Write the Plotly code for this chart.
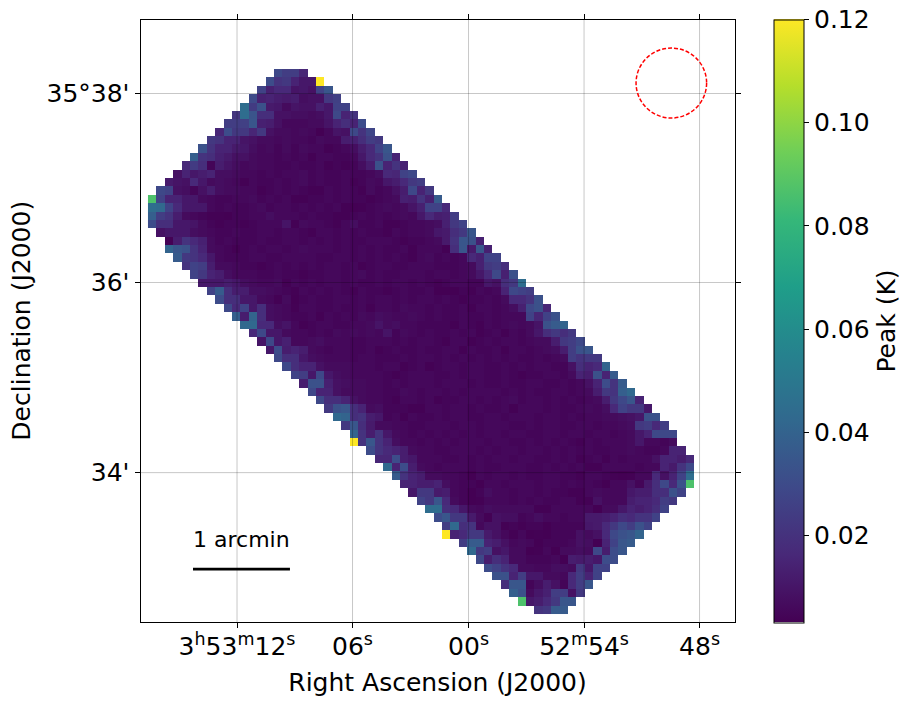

import numpy as np
import plotly.graph_objects as go

W, H = 908, 705

# first map column filled in each row (top row first)
ROW_START = [15, 14, 13, 12, 11, 10, 9, 8, 7, 6, 5, 4, 3, 2, 1, 0, 0, 0, 0, 1, 2, 2,
             3, 4, 5, 6, 7, 8, 9, 10, 11, 12, 13, 14, 15, 16, 17, 18, 19, 20, 21, 22,
             23, 24, 24, 26, 27, 28, 29, 30, 31, 32, 33, 34, 35, 35, 37, 38, 39, 40,
             41, 42, 43, 44, 46]

# peak per pixel in mK, one list per row
PEAK_MK = [
    [30,26,26,17],
    [32,22,24,16,12, 12,120],
    [28,15,18,18,11, 12,10,28,36],
    [31,15,16,14,13, 14,9,10,10,24, 27],
    [46,25,34,13,12, 8,11,10,10,15, 12,28,28],
    [23,46,35,20,20, 10,10,9,9,8, 9,12,30,16,22],
    [26,26,27,36,15, 14,10,7,7,7, 8,8,11,16,20, 16,32],
    [17,32,24,24,17, 24,10,8,8,7, 8,7,4,7,11, 10,30,22,29],
    [24,22,16,16,11, 10,8,8,7,8, 7,7,6,8,7, 7,14,15,20,26, 24],
    [34,22,16,16,13, 12,9,7,8,6, 8,6,8,7,7, 5,6,7,9,14, 18,28,36],
    [40,22,20,15,13, 10,10,8,7,7, 6,7,6,7,5, 7,7,6,6,7, 12,18,22,34,16],
    [18,25,20,6,14, 11,9,7,8,7, 7,6,6,7,6, 6,7,5,6,5, 6,9,14,34,16, 22,15],
    [10,16,12,14,16, 9,9,8,7,7, 6,7,6,7,7, 8,6,7,6,6, 7,6,6,7,9, 18,17,28,30],
    [13,11,10,18,12, 8,9,8,7,5, 7,6,6,7,6, 7,8,6,7,6, 6,7,5,6,8, 7,12,14,18,24, 26],
    [30,28,10,9,6, 10,14,9,8,8, 7,7,5,6,7, 6,7,6,5,5, 7,6,7,6,5, 8,6,7,10,14, 30,16,24],
    [88,28,16,16,12, 12,8,7,6,6, 7,7,8,6,7, 6,7,5,5,6, 6,7,6,7,6, 6,5,6,7,8, 15,14,22,15,38],
    [46,44,28,18,12, 12,12,7,6,7, 6,6,7,8,6, 7,7,6,7,6, 7,6,7,5,4, 5,6,7,8,7, 8,11,15,28,28, 18],
    [40,26,22,14,8, 7,6,5,5,4, 6,6,7,7,9, 7,7,7,6,7, 6,6,5,5,6, 7,6,7,6,7, 8,7,12,18,14, 15,26],
    [32,20,20,12,12, 11,8,6,5,6, 6,5,6,7,7, 7,11,5,8,7, 7,6,5,7,9, 6,6,7,5,5, 6,7,7,8,9, 15,24,28],
    [10,12,12,12,9, 8,7,6,6,7, 6,6,7,7,6, 7,7,6,5,7, 7,6,7,6,7, 6,6,5,7,6, 7,7,8,12,13, 20,24,36],
    [5,14,22,18,15, 8,6,7,6,6, 6,7,6,6,7, 7,6,7,6,7, 6,7,6,6,7, 7,7,6,5,6, 6,7,8,13,22, 36,34,15],
    [42,36,34,22,16, 8,7,6,4,6, 7,6,7,7,6, 7,8,7,7,7, 6,7,6,7,6, 7,6,6,7,5, 7,7,7,5,20, 36,13,36,15],
    [38,24,22,18,12, 7,6,6,6,7, 7,6,6,7,7, 7,7,6,6,7, 7,6,7,6,7, 6,7,6,5,7, 8,6,7,6,7, 18,15,28,28],
    [22,28,26,14,8, 8,7,6,6,5, 6,7,6,7,6, 7,6,7,7,6, 7,5,6,7,7, 6,6,7,7,7, 6,6,6,7,8, 15,24,26,20],
    [28,24,16,14,9, 7,7,7,6,6, 7,6,6,5,6, 6,7,7,6,7, 8,6,7,6,6, 7,7,7,6,7, 7,6,7,8,12, 18,30,15,34],
    [12,12,12,14,12, 9,8,7,7,8, 5,7,6,7,6, 7,7,6,7,6, 6,7,6,7,7, 6,7,6,5,6, 7,7,6,6,12, 10,20,24,46],
    [28,38,20,14,14, 9,9,8,7,6, 5,7,6,7,6, 7,6,5,7,6, 6,5,6,7,6, 6,7,4,4,4, 6,5,7,6,7, 16,30,28,26],
    [32,20,20,12,12, 8,7,5,8,4, 6,7,6,6,7, 7,6,7,6,7, 7,6,7,6,7, 7,6,7,6,5, 6,6,7,6,8, 18,18,22,34],
    [30,18,28,12,20, 9,8,7,5,7, 7,6,6,7,6, 6,7,5,7,7, 6,8,7,7,6, 7,6,6,7,5, 7,7,6,7,9, 15,30,34,17],
    [40,14,42,20,9, 8,7,6,6,7, 5,7,6,7,6, 8,7,9,8,7, 7,8,7,6,7, 6,6,7,6,6, 7,6,7,7,7, 28,17,28,34],
    [44,44,18,18,9, 11,7,5,6,7, 7,6,6,7,7, 8,11,8,9,7, 7,6,6,6,6, 5,7,6,5,7, 6,7,8,7,8, 11,34,38,42],
    [18,30,12,12,8, 7,7,6,7,6, 8,7,8,7,8, 7,11,6,8,7, 6,7,6,6,7, 6,7,5,6,7, 5,7,6,8,12, 20,24,20,24],
    [11,30,12,15,7, 7,8,9,7,7, 7,6,6,7,7, 7,6,7,6,7, 7,6,5,7,7, 5,6,7,6,7, 7,6,7,8,8, 14,24,26,30],
    [12,32,14,16,14, 8,7,6,7,7, 6,6,7,5,6, 7,6,6,7,6, 6,7,7,5,7, 6,6,7,5,7, 7,6,7,8,9, 14,26,34,36],
    [30,20,20,12,9, 8,7,7,7,6, 7,7,6,6,6, 7,6,7,7,6, 7,6,7,6,7, 6,7,6,7,6, 6,7,6,7,8, 26,22,24,24],
    [30,20,16,16,10, 8,8,8,7,7, 7,6,7,7,5, 6,7,5,6,7, 7,6,7,7,6, 6,7,6,7,6, 7,7,6,6,10, 20,16,18,42],
    [28,26,12,30,12, 9,8,7,7,7, 7,6,5,6,7, 7,7,6,6,7, 6,7,7,6,6, 7,6,5,6,6, 7,7,6,8,16, 14,34,16,38],
    [14,34,34,15,10, 9,8,8,7,7, 6,7,6,7,7, 7,6,7,7,7, 6,7,6,6,7, 6,6,7,7,6, 6,7,6,7,10, 16,32,22,38],
    [30,16,16,10,8, 8,8,7,7,6, 6,8,7,6,7, 7,6,7,6,7, 7,7,7,6,7, 6,7,6,6,7, 7,6,7,8,14, 24,22,40,44],
    [30,20,20,16,10, 8,7,7,6,5, 7,7,6,7,5, 6,6,7,7,6, 7,6,7,8,6, 7,7,6,7,6, 7,6,7,8,14, 24,30,36,16],
    [24,34,36,20,16, 8,9,6,6,6, 5,5,7,7,6, 7,7,6,7,6, 6,7,5,7,7, 7,6,7,6,6, 7,8,7,9,18, 28,24,24,12],
    [44,42,20,22,14, 12,6,7,5,7, 6,6,7,6,7, 7,6,6,7,7, 6,7,7,7,6, 7,7,6,7,6, 7,7,8,8,9, 10,12,34,34],
    [24,36,20,13,8, 8,7,7,6,6, 7,7,7,6,7, 7,6,7,7,7, 6,6,7,6,7, 7,6,6,7,7, 6,7,7,8,9, 24,26,18,26],
    [42,22,14,22,12, 8,7,6,7,6, 7,6,7,6,7, 6,7,7,6,7, 7,6,6,7,7, 6,7,7,6,7, 7,6,7,8,12, 16,30,30,30],
    [120,22,36,22,16, 9,7,7,6,7, 6,7,6,7,7, 7,6,7,7,6, 6,7,6,7,6, 7,6,5,7,6, 7,7,7,8,12, 7,7,6,8],
    [32,22,18,16,14, 8,7,7,6,6, 7,7,7,6,7, 6,7,7,6,7, 7,6,7,6,7, 6,7,6,6,7, 7,8,7,6,6, 7,16,16],
    [17,17,32,14,12, 7,7,7,6,6, 7,6,7,6,7, 7,6,7,7,6, 6,7,6,7,5, 6,7,5,7,6, 7,7,7,10,16, 16,14,18],
    [44,16,32,14,8, 7,6,7,7,7, 6,7,6,6,7, 7,7,6,6,7, 6,7,6,7,5, 5,7,7,7,7, 6,7,7,16,13, 22,30],
    [38,22,16,14,8, 8,7,7,6,4, 7,6,7,7,6, 7,6,6,7,7, 6,6,5,7,7, 6,5,4,5,7, 7,18,10,16,28, 46],
    [16,16,14,14,16, 9,7,6,6,4, 7,7,6,7,7, 7,6,7,7,6, 7,6,7,6,4, 7,7,10,6,13, 20,30,18,34,88],
    [12,24,24,13,14, 7,6,4,6,9, 7,7,6,7,7, 6,7,6,6,5, 5,7,8,7,7, 7,12,14,14,20, 20,34,28],
    [28,24,36,18,8, 6,4,5,7,7, 7,6,7,6,7, 6,6,7,7,5, 5,10,7,7,7, 14,16,16,18,26, 24],
    [46,46,20,18,12, 8,7,9,8,8, 8,8,8,5,5, 7,7,7,7,7, 4,8,8,12,16, 14,16,20,28],
    [32,36,24,24,13, 8,5,10,9,9, 6,7,9,7,7, 6,7,7,13,13, 14,16,20,18,22, 22,28],
    [26,44,20,22,7, 10,10,5,6,5, 6,6,4,6,6, 6,6,12,13,18, 24,30,26,34,28],
    [120,16,18,24,24, 13,10,7,5,7, 4,5,4,6,6, 6,10,8,10,18, 30,34,36,42],
    [26,38,38,16,14, 10,7,8,7,4, 6,6,6,7,10, 9,4,16,28,36, 38],
    [44,24,26,10,12, 8,8,4,5,7, 4,8,8,9,8, 30,14,32,36],
    [30,14,20,16,8, 8,6,6,6,7, 4,14,13,14,12, 32,32],
    [32,28,22,18,8, 8,7,7,9,9, 8,24,12,28,28],
    [34,34,16,26,12, 12,8,8,7,18, 26,16,28],
    [20,36,36,6,9, 14,10,6,18,26, 36],
    [40,34,8,12,15, 26,26,10,24],
    [88,12,14,18,24, 36,36],
    [22,24,38,38],
]

# my colour readings came out a touch high against the map, so shift them down
READING_SHIFT_MK = 1.5

# ticks, in map pixel coordinates
RA_TICKS = [10.1, 23.85, 37.66, 51.41, 65.16]
RA_LABELS = ["3<sup>h</sup>53<sup>m</sup>12<sup>s</sup>", "06<sup>s</sup>", "00<sup>s</sup>",
             "52<sup>m</sup>54<sup>s</sup>", "48<sup>s</sup>"]
DEC_TICKS = [2.42, 24.94, 47.6]
DEC_LABELS = ["35°38'", "36'", "34'"]
CB_TICKS = [0.02, 0.04, 0.06, 0.08, 0.10, 0.12]

BEAM_X = [57.6, 66.0]
BEAM_Y = [-3.0, 5.34]
BAR_X = [4.86, 16.4]
BAR_Y = 59.1

ZMIN, ZMAX = 0.0031, 0.12

n_cols = 70
grid = np.full((len(PEAK_MK), n_cols), np.nan)
for r, (start, row) in enumerate(zip(ROW_START, PEAK_MK)):
    vals = (np.array(row) - READING_SHIFT_MK) / 1000.0
    grid[r, start:start + len(row)] = vals
grid[grid > 0.11] = ZMAX

FONT = "DejaVu Sans"
LEFT, RIGHT, TOP, BOTTOM = 140.5, 734.5, 19.5, 622

fig = go.Figure(go.Heatmap(
    z=grid,
    colorscale="Viridis",
    zmin=ZMIN, zmax=ZMAX,
    hoverongaps=False,
    colorbar=dict(
        x=774 / W, xanchor="left", xpad=0,
        y=1 - 19.5 / H, yanchor="top", ypad=0,
        len=602.5 / H, lenmode="fraction",
        thickness=30, thicknessmode="pixels",
        outlinewidth=1, outlinecolor="black",
        tickvals=CB_TICKS, tickformat=".2f",
        ticks="outside", ticklen=5, tickwidth=1, tickcolor="black",
        tickfont=dict(size=25, family=FONT, color="black"),
        title=dict(text="Peak (K)", side="right", font=dict(size=25, family=FONT, color="black")),
    ),
))

# grid sits on top of the image in the original
for v in RA_TICKS:
    fig.add_shape(type="line", x0=v, x1=v, yref="paper", y0=1 - BOTTOM / H, y1=1 - TOP / H,
                  line=dict(color="rgba(0,0,0,0.22)", width=1))
for v in DEC_TICKS:
    fig.add_shape(type="line", y0=v, y1=v, xref="paper", x0=LEFT / W, x1=RIGHT / W,
                  line=dict(color="rgba(0,0,0,0.22)", width=1))

fig.add_shape(type="circle", x0=BEAM_X[0], x1=BEAM_X[1], y0=BEAM_Y[0], y1=BEAM_Y[1],
              line=dict(color="red", width=1.5, dash="4px,2px"))
fig.add_shape(type="line", x0=BAR_X[0], x1=BAR_X[1], y0=BAR_Y, y1=BAR_Y,
              line=dict(color="black", width=2.8))
fig.add_annotation(x=(BAR_X[0] + BAR_X[1]) / 2, y=BAR_Y - 3.5, text="1 arcmin", showarrow=False,
                   font=dict(size=22, family=FONT, color="black"))

AXIS = dict(showgrid=False, zeroline=False, showline=True, linecolor="black", linewidth=1,
            mirror="ticks", ticks="outside", ticklen=5, tickwidth=1, tickcolor="black",
            tickfont=dict(size=25, family=FONT, color="black"))

fig.update_layout(
    width=W, height=H,
    margin=dict(l=0, r=0, t=0, b=0),
    paper_bgcolor="white", plot_bgcolor="white",
    font=dict(family=FONT, color="black"),
    xaxis=dict(AXIS, domain=[LEFT / W, RIGHT / W], range=[-1.39, 69.32],
               tickmode="array", tickvals=RA_TICKS, ticktext=RA_LABELS, ticklabelstandoff=-3,
               title=dict(text="Right Ascension (J2000)", font=dict(size=25, family=FONT), standoff=13)),
    yaxis=dict(AXIS, domain=[1 - BOTTOM / H, 1 - TOP / H], range=[65.4, -6.4],
               tickmode="array", tickvals=DEC_TICKS, ticktext=DEC_LABELS,
               title=dict(text="Declination (J2000)", font=dict(size=25, family=FONT), standoff=8)),
)

fig.write_html("out.html", config={"displayModeBar": False},
               post_script="document.body.style.margin='0'")
